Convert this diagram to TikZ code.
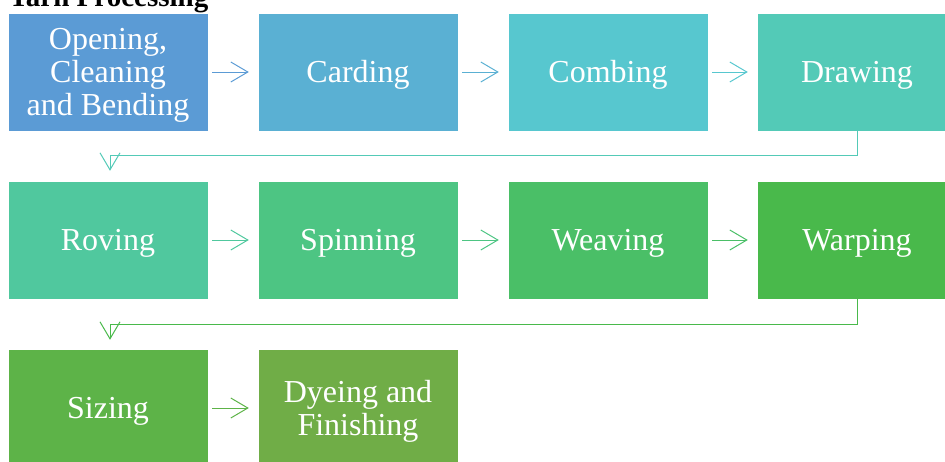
\documentclass[tikz,border=0pt]{standalone}
\usepackage{fontspec}
\setmainfont{Liberation Serif}
\usetikzlibrary{arrows.meta}
\definecolor{c1}{HTML}{5B9BD5}
\definecolor{c2}{HTML}{5AB0D3}
\definecolor{c3}{HTML}{57C7CF}
\definecolor{c4}{HTML}{53CAB7}
\definecolor{c5}{HTML}{50C89E}
\definecolor{c6}{HTML}{4DC583}
\definecolor{c7}{HTML}{4ABF67}
\definecolor{c8}{HTML}{49B94B}
\definecolor{c9}{HTML}{5DB348}
\definecolor{c10}{HTML}{70AD47}
\begin{document}
\begin{tikzpicture}[x=1pt,y=-1pt,
  stepbox/.style={minimum width=200pt, minimum height=118pt, inner sep=0pt,
    draw=white, line width=0.4pt},
  lbl/.style={inner sep=0pt, text=white, font=\fontsize{32}{33}\selectfont, align=center},
  conn/.style={line width=1pt,
    -{Straight Barb[length=17pt,width=20pt,line width=1pt]}}]
\useasboundingbox (0,0) rectangle (945,461);
\clip (0,0) rectangle (945,461);
\node[anchor=base west, inner sep=0pt, font=\fontsize{29}{30}\selectfont\bfseries] (title) at (8,6) {Yarn Processing};
% row 1
\node[stepbox, fill=c1] (n1) at (108,72) {};
\node[stepbox, fill=c2] (n2) at (358,72) {};
\node[stepbox, fill=c3] (n3) at (608,72) {};
\node[stepbox, fill=c4] (n4) at (857,72) {};
% row 2
\node[stepbox, fill=c5] (n5) at (108,240) {};
\node[stepbox, fill=c6] (n6) at (358,240) {};
\node[stepbox, fill=c7] (n7) at (608,240) {};
\node[stepbox, fill=c8] (n8) at (857,240) {};
% row 3
\node[stepbox, fill=c9] (n9) at (108,408) {};
\node[stepbox, fill=c10] (n10) at (358,408) {};
% labels
\node[lbl] (t1) at ([yshift=-3pt]n1.center) {Opening,\\Cleaning\\and Bending};
\node[lbl] (t2) at ([yshift=-3pt]n2.center) {Carding};
\node[lbl] (t3) at ([yshift=-3pt]n3.center) {Combing};
\node[lbl] (t4) at ([yshift=-3pt]n4.center) {Drawing};
\node[lbl] (t5) at ([yshift=-3pt]n5.center) {Roving};
\node[lbl] (t6) at ([yshift=-3pt]n6.center) {Spinning};
\node[lbl] (t7) at ([yshift=-3pt]n7.center) {Weaving};
\node[lbl] (t8) at ([yshift=-3pt]n8.center) {Warping};
\node[lbl] (t9) at ([yshift=-3pt]n9.center) {Sizing};
\node[lbl] (t10) at ([yshift=-3pt]n10.center) {Dyeing and\\Finishing};
% arrows
\draw[conn, c1] ([xshift=4pt]n1.east) -- ([xshift=-9pt]n2.west);
\draw[conn, c2] ([xshift=4pt]n2.east) -- ([xshift=-9pt]n3.west);
\draw[conn, c3] ([xshift=4pt]n3.east) -- ([xshift=-9pt]n4.west);
\draw[conn, c4] (n4.south) -- ++(0,24) -| ([xshift=2pt,yshift=10pt]n5.north);
\draw[conn, c5] ([xshift=4pt]n5.east) -- ([xshift=-9pt]n6.west);
\draw[conn, c6] ([xshift=4pt]n6.east) -- ([xshift=-9pt]n7.west);
\draw[conn, c7] ([xshift=4pt]n7.east) -- ([xshift=-9pt]n8.west);
\draw[conn, c8] (n8.south) -- ++(0,25) -| ([xshift=2pt,yshift=9pt]n9.north);
\draw[conn, c9] ([xshift=4pt]n9.east) -- ([xshift=-9pt]n10.west);
\end{tikzpicture}
\end{document}
